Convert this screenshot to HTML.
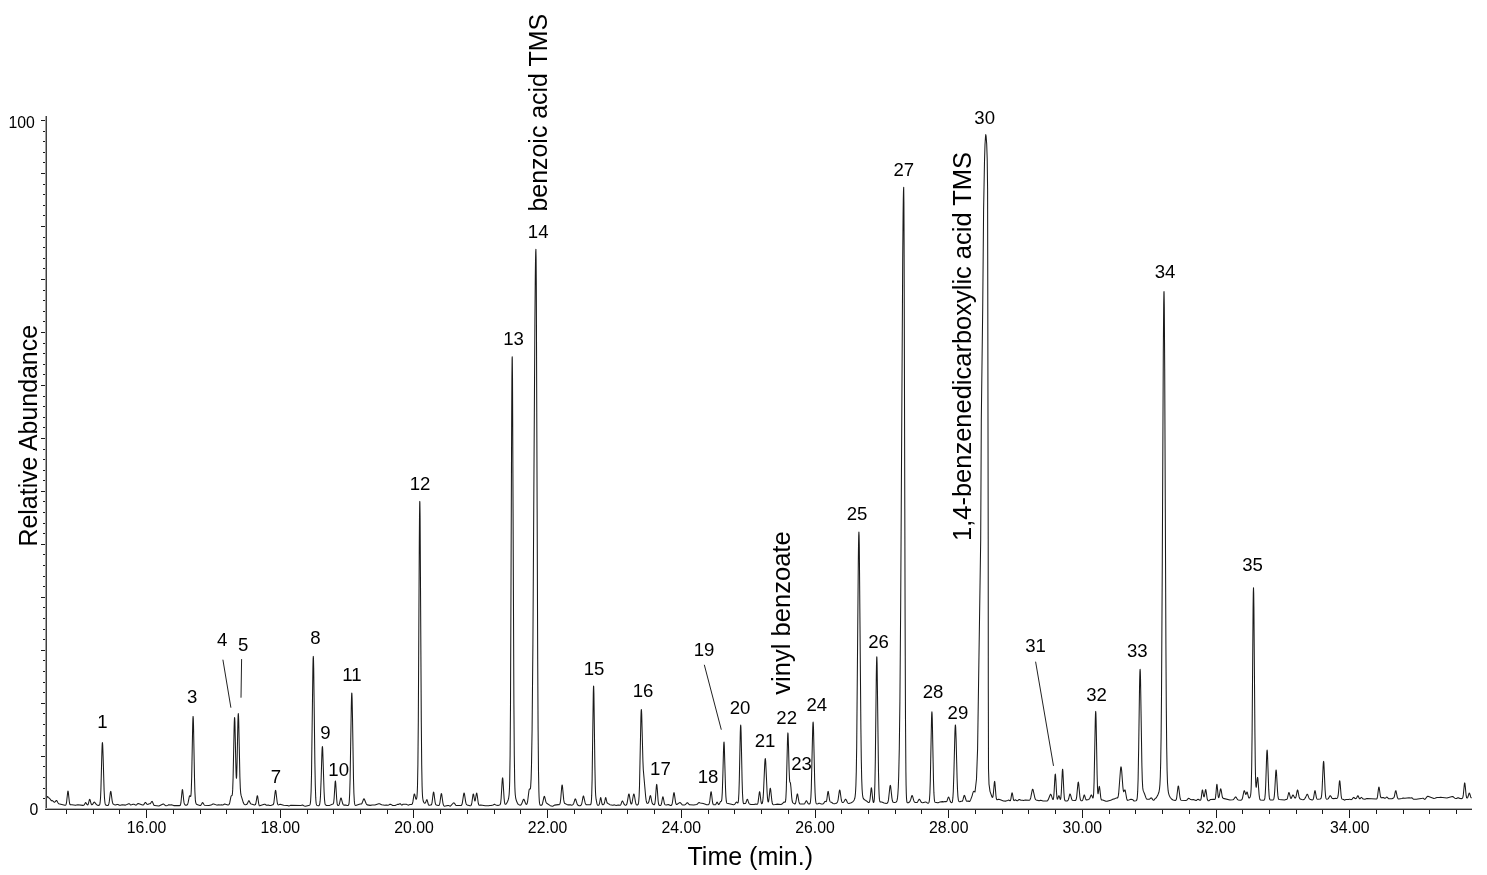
<!DOCTYPE html>
<html><head><meta charset="utf-8"><style>
html,body{margin:0;padding:0;background:#fff;width:1487px;height:875px;overflow:hidden}
svg{display:block;will-change:transform}
text{font-family:"Liberation Sans",sans-serif;fill:#000}
</style></head><body>
<svg width="1487" height="875" viewBox="0 0 1487 875">
<rect width="1487" height="875" fill="#fff"/>
<path d="M46.50,798.16 L47.50,796.44 L48.50,797.61 L49.70,798.50 L51.30,800.66 L52.30,800.63 L52.70,800.78 L53.90,801.97 L54.30,802.15 L54.70,802.11 L55.30,801.63 L56.10,800.64 L56.30,800.50 L56.60,800.50 L56.90,800.77 L58.10,803.00 L58.70,803.65 L64.90,805.28 L65.50,805.16 L65.90,804.78 L66.10,804.36 L66.50,802.72 L67.70,792.02 L67.90,791.20 L68.00,791.10 L68.10,791.22 L68.30,792.10 L69.30,801.50 L69.70,803.74 L69.90,804.32 L70.10,804.66 L70.30,804.81 L71.90,804.73 L75.50,805.35 L77.90,804.68 L82.90,805.38 L83.70,805.21 L84.10,804.93 L85.30,802.91 L85.50,802.68 L85.70,802.60 L85.90,802.67 L87.10,804.61 L87.50,804.89 L87.70,804.88 L87.90,804.73 L88.30,803.99 L89.30,800.02 L89.50,799.50 L89.70,799.30 L89.90,799.47 L90.30,800.70 L91.10,803.82 L91.50,804.57 L91.70,804.72 L91.90,804.76 L92.30,804.60 L92.90,803.89 L93.90,802.30 L94.10,802.15 L94.30,802.10 L94.50,802.16 L96.50,804.65 L97.50,805.21 L98.70,805.38 L99.10,805.29 L99.30,805.16 L99.50,804.91 L99.70,804.50 L99.90,803.81 L100.10,802.70 L100.50,798.42 L100.90,789.78 L101.90,751.82 L102.10,746.15 L102.30,743.04 L102.40,742.60 L102.50,742.86 L102.70,745.21 L103.10,755.92 L104.10,790.12 L104.50,798.03 L104.90,802.26 L105.10,803.42 L105.30,804.17 L105.50,804.64 L105.90,805.12 L107.50,805.50 L107.90,805.44 L108.30,805.18 L108.50,804.88 L108.90,803.70 L109.30,801.42 L110.30,792.84 L110.50,791.81 L110.70,791.40 L110.90,791.65 L111.10,792.52 L112.10,800.36 L112.50,802.45 L112.90,803.57 L113.30,804.11 L114.50,804.83 L115.30,804.93 L117.10,804.40 L117.90,804.51 L119.50,805.27 L120.50,805.30 L122.10,804.67 L125.50,805.11 L128.70,803.65 L129.10,803.65 L129.50,803.91 L130.30,804.73 L130.70,804.92 L131.50,804.85 L133.10,804.24 L133.90,804.28 L135.70,805.11 L136.10,805.12 L136.50,804.89 L137.50,803.82 L137.90,803.60 L138.30,803.62 L142.50,805.10 L143.10,805.09 L143.50,804.90 L144.10,804.17 L144.90,802.80 L145.30,802.43 L145.50,802.40 L145.70,802.49 L146.90,804.06 L147.30,804.35 L147.70,804.40 L149.30,803.85 L150.10,803.76 L150.50,803.53 L151.70,801.58 L151.90,801.41 L152.10,801.40 L152.30,801.57 L153.70,804.81 L154.10,805.31 L154.70,805.60 L158.90,805.94 L163.10,803.99 L163.70,804.03 L165.50,805.64 L165.90,805.82 L167.70,805.40 L168.70,804.81 L169.10,804.78 L169.90,805.04 L171.30,804.86 L173.70,805.62 L179.70,805.61 L180.10,805.41 L180.30,805.16 L180.50,804.72 L180.90,802.94 L182.10,790.81 L182.30,789.77 L182.40,789.60 L182.50,789.66 L182.70,790.48 L183.70,800.33 L184.10,802.89 L184.50,804.19 L184.90,804.77 L185.70,805.25 L186.30,805.33 L186.90,805.11 L187.30,804.70 L187.70,803.95 L188.10,802.68 L189.30,796.66 L189.50,796.02 L189.70,795.70 L189.90,795.69 L190.50,796.56 L190.70,796.43 L190.90,795.54 L191.10,793.48 L191.30,789.87 L191.70,776.79 L192.70,724.57 L192.90,718.51 L193.10,716.40 L193.30,718.55 L193.50,724.66 L194.50,777.62 L194.90,791.74 L195.30,799.14 L195.50,801.11 L195.70,802.35 L195.90,803.14 L196.30,803.99 L196.90,804.56 L199.90,805.52 L200.50,805.44 L200.90,805.17 L201.50,804.27 L202.30,802.79 L202.60,802.60 L202.90,802.73 L204.10,804.75 L204.50,805.15 L208.90,805.42 L211.10,805.10 L212.90,804.00 L213.70,803.90 L216.90,805.13 L217.70,805.07 L218.70,804.76 L220.10,804.96 L221.50,804.79 L222.70,805.03 L223.30,804.78 L224.30,804.09 L224.70,804.05 L227.90,804.91 L228.50,804.88 L228.90,804.65 L229.30,804.06 L229.70,802.90 L230.90,796.96 L231.10,796.26 L231.40,795.70 L231.90,795.57 L232.10,795.29 L232.30,794.41 L232.50,792.57 L232.70,789.39 L233.10,777.83 L234.10,728.77 L234.30,721.81 L234.50,718.08 L234.60,717.60 L234.70,718.07 L234.90,721.76 L235.90,767.05 L236.10,773.74 L236.30,777.60 L236.50,778.27 L236.70,775.66 L237.10,761.68 L237.90,721.67 L238.10,715.84 L238.30,713.60 L238.50,715.23 L238.70,720.46 L239.90,777.13 L240.30,787.84 L240.70,793.12 L241.10,795.42 L243.30,802.58 L243.90,803.83 L244.50,804.45 L245.50,804.71 L246.30,804.60 L246.90,804.20 L247.50,803.33 L248.50,801.10 L248.70,800.82 L248.90,800.70 L249.10,800.78 L249.50,801.42 L250.30,803.16 L250.70,803.67 L251.30,803.97 L254.50,804.92 L254.90,804.89 L255.30,804.64 L255.50,804.37 L255.90,803.27 L257.10,796.18 L257.30,795.71 L257.40,795.70 L257.50,795.85 L257.70,796.59 L258.70,803.67 L259.10,805.24 L259.30,805.62 L259.50,805.79 L259.70,805.83 L264.30,804.30 L264.90,804.33 L266.50,805.25 L267.10,805.28 L268.10,805.05 L269.70,805.60 L270.90,805.49 L272.30,804.86 L272.90,804.79 L273.10,804.70 L273.30,804.49 L273.50,804.10 L273.90,802.52 L275.10,792.32 L275.30,791.09 L275.50,790.46 L275.60,790.40 L275.70,790.52 L275.90,791.26 L277.10,801.52 L277.50,803.60 L277.70,804.20 L277.90,804.58 L278.10,804.80 L278.30,804.88 L280.10,804.34 L283.70,805.26 L286.70,805.51 L287.50,805.43 L288.90,805.96 L289.50,805.80 L290.90,805.18 L300.90,805.51 L302.50,805.06 L302.90,805.11 L304.30,805.99 L305.50,806.18 L309.50,805.15 L309.70,805.00 L309.90,804.73 L310.10,804.24 L310.30,803.40 L310.50,802.01 L310.70,799.80 L311.10,791.48 L311.50,775.23 L312.90,667.77 L313.10,659.31 L313.30,656.40 L313.50,659.37 L313.70,667.89 L314.90,764.03 L315.30,785.32 L315.70,797.15 L315.90,800.45 L316.10,802.58 L316.30,803.90 L316.50,804.67 L316.70,805.11 L317.10,805.49 L318.50,805.74 L318.90,805.63 L319.30,805.23 L319.50,804.81 L319.70,804.12 L320.10,801.43 L320.50,795.88 L321.10,780.21 L321.90,753.48 L322.10,749.16 L322.30,746.88 L322.40,746.60 L322.50,746.91 L322.70,749.26 L324.10,792.03 L324.50,799.34 L324.90,803.05 L325.10,803.98 L325.30,804.52 L325.70,805.03 L326.50,805.46 L329.70,805.40 L332.30,804.16 L332.90,804.07 L333.10,803.97 L333.30,803.73 L333.50,803.21 L333.70,802.27 L334.10,798.56 L335.10,782.57 L335.30,781.16 L335.40,781.00 L335.50,781.23 L335.70,782.78 L336.70,799.24 L337.10,803.15 L337.30,804.23 L337.50,804.88 L337.70,805.26 L337.90,805.45 L338.30,805.54 L338.70,805.35 L339.10,804.75 L339.50,803.51 L340.50,798.95 L340.70,798.36 L340.90,798.05 L341.10,798.03 L341.30,798.31 L342.70,803.58 L343.10,804.48 L343.50,804.94 L343.90,805.12 L345.70,805.05 L347.10,805.44 L348.10,805.37 L348.30,805.31 L348.50,805.15 L348.70,804.78 L348.90,804.07 L349.10,802.82 L349.30,800.79 L349.70,793.26 L350.10,779.08 L351.30,706.23 L351.50,697.95 L351.70,693.56 L351.80,693.00 L351.90,693.56 L352.10,697.95 L352.50,717.47 L353.50,779.05 L353.90,793.18 L354.30,800.64 L354.50,802.65 L354.70,803.90 L354.90,804.65 L355.10,805.08 L355.30,805.30 L355.70,805.44 L360.10,804.01 L361.30,803.97 L361.70,803.70 L362.10,803.09 L363.50,799.29 L363.70,798.97 L364.00,798.80 L364.30,799.03 L366.10,803.56 L366.70,804.47 L367.30,804.86 L370.10,805.36 L372.30,804.99 L374.90,805.02 L378.70,803.74 L379.50,803.80 L381.70,804.84 L384.70,805.26 L386.30,805.09 L387.90,805.34 L388.70,805.04 L389.70,804.39 L390.30,804.29 L391.30,804.59 L392.70,805.45 L395.10,805.47 L397.50,804.37 L398.70,804.36 L399.90,803.70 L400.10,803.66 L400.30,803.71 L401.50,804.99 L401.90,805.12 L402.30,804.95 L403.10,804.27 L403.50,804.19 L404.50,804.34 L406.30,804.26 L408.10,805.12 L408.50,805.11 L409.90,804.50 L411.70,804.44 L412.10,804.15 L412.50,803.32 L412.90,801.66 L413.90,795.27 L414.10,794.43 L414.30,794.00 L414.50,794.01 L414.70,794.42 L415.70,798.57 L415.90,799.04 L416.10,799.25 L416.30,799.19 L416.50,798.84 L416.70,798.12 L416.90,796.85 L417.10,794.75 L417.30,791.29 L417.50,785.74 L417.90,764.32 L418.30,721.97 L419.30,543.26 L419.50,517.21 L419.70,503.20 L419.80,501.40 L419.90,503.20 L420.10,517.22 L421.30,722.17 L421.70,764.68 L422.10,786.35 L422.30,792.06 L422.50,795.69 L422.70,798.00 L423.10,800.52 L423.50,801.81 L423.90,802.57 L424.30,802.99 L424.70,803.16 L425.10,803.12 L425.50,802.73 L426.50,800.10 L426.70,799.76 L426.90,799.70 L427.10,799.95 L428.30,804.24 L428.70,805.01 L429.10,805.31 L429.50,805.31 L430.50,804.96 L431.10,804.94 L431.30,804.83 L431.50,804.58 L431.70,804.10 L432.10,802.29 L433.10,794.06 L433.30,792.84 L433.50,792.19 L433.60,792.10 L433.70,792.18 L433.90,792.82 L435.10,802.08 L435.50,803.87 L435.70,804.37 L435.90,804.68 L436.30,804.97 L438.30,805.59 L438.70,805.57 L439.10,805.29 L439.50,804.47 L439.90,802.75 L440.90,795.34 L441.10,794.26 L441.30,793.67 L441.40,793.60 L441.50,793.68 L441.70,794.26 L442.90,802.81 L443.30,804.60 L443.70,805.54 L444.10,805.99 L444.50,806.17 L445.30,806.10 L447.90,805.42 L448.70,805.54 L449.90,806.15 L450.30,806.12 L450.90,805.65 L453.10,803.24 L453.70,802.88 L454.10,802.95 L454.50,803.33 L455.70,805.12 L456.30,805.56 L461.10,805.50 L461.50,805.26 L461.90,804.56 L462.30,803.11 L463.70,793.93 L464.00,793.10 L464.10,793.06 L464.30,793.35 L464.50,794.10 L465.70,802.12 L466.10,803.64 L466.50,804.44 L467.10,804.94 L470.10,805.81 L470.70,805.71 L471.10,805.31 L471.50,804.32 L471.90,802.41 L472.90,795.21 L473.10,794.35 L473.30,794.00 L473.50,794.20 L473.70,794.91 L474.50,799.75 L474.70,800.56 L474.90,800.95 L475.10,800.85 L475.30,800.28 L476.30,794.03 L476.50,793.29 L476.70,793.10 L476.90,793.49 L477.30,795.77 L478.10,802.04 L478.50,804.03 L478.70,804.62 L478.90,805.00 L479.10,805.20 L479.30,805.28 L480.70,804.91 L485.30,805.69 L488.70,805.70 L489.70,805.44 L491.10,805.53 L493.10,805.02 L494.10,804.35 L494.50,804.31 L495.70,804.90 L498.10,805.47 L498.70,805.32 L499.90,804.74 L500.10,804.59 L500.30,804.25 L500.50,803.62 L500.70,802.57 L501.10,798.77 L502.10,781.93 L502.30,779.44 L502.50,778.09 L502.60,777.90 L502.70,778.05 L502.90,779.35 L504.10,798.27 L504.50,801.99 L504.70,803.05 L504.90,803.71 L505.10,804.08 L505.30,804.25 L505.50,804.29 L505.90,804.15 L506.50,803.57 L507.50,801.71 L508.30,799.47 L508.70,797.80 L509.10,794.77 L509.30,792.02 L509.50,787.72 L509.70,780.99 L510.10,755.41 L510.50,704.34 L511.70,412.70 L511.90,377.73 L512.10,359.07 L512.20,356.70 L512.30,359.12 L512.50,377.85 L513.90,704.58 L514.30,755.62 L514.70,781.18 L514.90,787.91 L515.10,792.21 L515.30,794.97 L515.70,798.04 L516.50,801.04 L517.50,803.33 L518.30,804.39 L519.50,805.08 L520.30,805.18 L520.70,805.07 L521.10,804.77 L521.70,803.84 L523.10,800.02 L523.50,799.37 L523.70,799.27 L523.90,799.35 L524.30,799.98 L525.50,803.30 L525.90,804.04 L526.10,804.26 L526.30,804.37 L526.50,804.37 L526.70,804.24 L526.90,803.97 L527.30,802.84 L527.70,800.78 L528.90,791.11 L529.10,790.01 L529.30,789.30 L529.50,788.98 L529.70,788.95 L530.10,789.09 L530.30,788.79 L530.50,787.88 L530.70,786.09 L531.10,778.88 L531.50,765.26 L532.10,729.17 L532.90,644.97 L534.90,321.06 L535.30,276.25 L535.50,261.42 L535.70,252.34 L535.90,249.30 L536.10,258.44 L536.30,284.90 L537.70,659.33 L538.10,729.84 L538.50,771.13 L538.90,791.77 L539.10,797.21 L539.30,800.64 L539.50,802.71 L539.70,803.93 L539.90,804.62 L540.10,805.00 L540.50,805.31 L541.30,805.33 L541.70,805.15 L542.10,804.68 L542.50,803.73 L543.90,797.15 L544.10,796.61 L544.30,796.40 L544.50,796.53 L544.70,796.97 L545.90,801.86 L546.30,802.78 L546.70,803.25 L550.30,805.65 L552.50,806.20 L553.10,806.00 L554.50,805.12 L558.30,804.61 L559.10,804.65 L559.50,804.49 L559.70,804.26 L559.90,803.87 L560.30,802.26 L560.70,799.10 L561.70,787.04 L561.90,785.58 L562.10,785.00 L562.30,785.36 L562.50,786.59 L563.70,799.66 L564.10,801.97 L564.50,803.09 L564.90,803.57 L567.70,804.89 L570.50,804.79 L571.70,805.14 L572.30,805.01 L572.90,804.62 L573.30,804.16 L573.70,803.38 L574.90,799.49 L575.10,799.09 L575.30,798.90 L575.50,798.96 L575.70,799.25 L577.10,803.86 L577.50,804.68 L578.10,805.34 L579.10,805.75 L580.10,805.67 L580.90,805.28 L581.30,804.81 L581.70,803.83 L582.30,800.99 L582.90,797.44 L583.10,796.59 L583.30,796.09 L583.40,796.00 L583.50,796.01 L583.70,796.33 L585.10,802.63 L585.50,803.77 L585.90,804.41 L586.30,804.71 L590.30,804.72 L590.50,804.64 L590.70,804.46 L590.90,804.06 L591.10,803.28 L591.30,801.82 L591.50,799.28 L591.70,795.15 L592.10,779.90 L593.30,693.18 L593.50,686.82 L593.60,686.00 L593.70,686.82 L593.90,693.18 L594.90,766.92 L595.30,786.35 L595.50,791.91 L595.70,795.45 L596.10,799.20 L596.90,803.40 L597.30,804.67 L597.50,805.02 L597.70,805.22 L598.10,805.33 L598.70,805.15 L598.90,804.98 L599.10,804.68 L599.50,803.47 L600.30,798.74 L600.50,797.90 L600.70,797.60 L600.90,797.91 L601.90,803.37 L602.10,804.04 L602.30,804.44 L602.50,804.65 L602.90,804.72 L603.70,804.41 L604.10,803.93 L604.50,802.80 L605.30,798.65 L605.50,797.90 L605.70,797.60 L605.90,797.81 L606.90,802.25 L607.10,802.82 L607.30,803.18 L607.50,803.38 L608.50,803.75 L609.90,804.68 L612.70,805.16 L614.50,804.87 L616.10,805.44 L618.10,805.05 L620.10,805.24 L620.50,805.08 L620.90,804.53 L621.90,801.66 L622.10,801.24 L622.30,801.00 L622.50,800.97 L622.70,801.12 L624.10,804.17 L624.70,804.90 L625.30,805.23 L625.70,805.28 L626.10,805.13 L626.50,804.68 L626.90,803.75 L627.30,802.12 L628.50,794.86 L628.70,794.22 L628.90,794.00 L629.10,794.22 L629.30,794.86 L630.50,802.04 L630.90,803.52 L631.10,803.91 L631.30,804.07 L631.50,804.01 L631.70,803.72 L632.10,802.48 L633.30,795.52 L633.50,794.65 L633.70,794.12 L633.90,794.00 L634.10,794.30 L634.50,796.00 L635.50,802.17 L635.90,803.72 L636.30,804.58 L636.70,804.95 L637.10,805.06 L637.50,805.00 L637.90,804.70 L638.10,804.37 L638.30,803.82 L638.50,802.93 L638.70,801.53 L639.10,796.27 L639.50,786.03 L640.90,717.94 L641.10,712.11 L641.30,709.50 L641.50,710.28 L641.70,714.19 L642.90,760.57 L643.30,769.72 L645.70,797.04 L646.10,800.13 L646.50,802.07 L646.90,803.05 L647.10,803.28 L647.30,803.38 L647.70,803.34 L648.10,803.10 L648.50,802.58 L648.90,801.52 L649.90,796.73 L650.10,796.01 L650.30,795.64 L650.40,795.60 L650.50,795.66 L650.70,796.09 L651.90,802.06 L652.30,803.30 L652.70,803.97 L653.70,804.64 L654.10,804.71 L654.30,804.64 L654.50,804.44 L654.70,804.02 L654.90,803.30 L655.30,800.47 L656.30,786.80 L656.50,785.03 L656.70,784.40 L656.90,785.02 L657.30,789.40 L658.10,800.52 L658.50,803.45 L658.70,804.26 L658.90,804.78 L659.30,805.31 L659.70,805.52 L660.10,805.56 L660.50,805.43 L660.90,805.03 L661.30,804.16 L661.70,802.51 L662.50,797.81 L662.70,797.08 L662.90,796.80 L663.10,797.03 L663.50,798.73 L664.30,803.08 L664.70,804.21 L665.10,804.71 L666.30,805.02 L668.30,804.55 L668.90,804.68 L670.50,805.51 L670.90,805.56 L671.30,805.42 L671.70,804.95 L672.10,803.91 L672.50,802.00 L673.50,794.42 L673.70,793.34 L673.90,792.77 L674.00,792.70 L674.10,792.78 L674.30,793.37 L675.50,801.84 L675.90,803.54 L676.10,804.03 L676.30,804.32 L676.50,804.47 L676.90,804.46 L679.50,802.68 L679.90,802.59 L680.30,802.70 L682.10,804.65 L682.90,804.98 L684.70,804.90 L685.50,804.50 L686.90,802.91 L687.40,802.70 L687.70,802.82 L689.10,804.47 L689.70,804.85 L693.70,804.92 L696.70,804.47 L697.50,803.97 L698.70,802.69 L699.10,802.57 L700.30,803.00 L703.30,803.57 L706.70,804.78 L708.10,804.74 L708.70,804.44 L709.10,803.90 L709.50,802.64 L709.90,800.17 L710.70,793.10 L710.90,792.04 L711.10,791.70 L711.30,792.15 L711.70,794.99 L712.50,801.99 L712.90,803.76 L713.10,804.23 L713.30,804.51 L713.70,804.76 L715.10,804.84 L715.50,804.69 L715.90,804.25 L716.70,802.52 L716.90,802.21 L717.10,802.10 L717.30,802.21 L718.30,804.20 L718.50,804.42 L718.70,804.52 L718.90,804.49 L719.30,804.10 L720.30,801.91 L720.70,801.40 L721.30,801.18 L721.50,800.83 L721.70,800.02 L721.90,798.51 L722.30,792.38 L722.90,773.63 L723.50,750.44 L723.70,745.16 L723.90,742.40 L724.00,742.10 L724.10,742.55 L724.30,745.59 L725.50,788.00 L725.90,796.62 L726.30,800.95 L726.50,802.05 L726.70,802.70 L726.90,803.07 L727.10,803.26 L733.50,804.65 L734.30,804.50 L734.90,804.05 L736.10,802.34 L736.50,802.07 L736.70,802.09 L737.50,802.86 L737.70,802.97 L737.90,802.89 L738.10,802.47 L738.30,801.55 L738.50,799.88 L738.90,793.17 L739.30,780.26 L740.30,732.37 L740.50,726.90 L740.70,725.00 L740.90,726.93 L741.10,732.43 L742.10,780.38 L742.50,793.30 L742.90,800.08 L743.10,801.83 L743.30,802.87 L743.50,803.42 L743.70,803.65 L743.90,803.69 L744.50,803.50 L745.30,803.54 L745.50,803.41 L745.90,802.77 L746.90,799.83 L747.10,799.45 L747.30,799.29 L747.50,799.37 L747.70,799.70 L748.70,802.85 L749.10,803.63 L749.50,803.96 L750.90,804.49 L754.10,804.54 L755.70,804.08 L756.90,804.35 L757.30,804.25 L757.50,804.05 L757.70,803.68 L758.10,802.18 L759.30,792.55 L759.50,791.80 L759.60,791.70 L759.70,791.80 L759.90,792.56 L760.90,800.93 L761.30,802.93 L761.50,803.44 L761.70,803.68 L761.90,803.69 L762.10,803.50 L762.30,803.08 L762.70,801.37 L763.10,797.93 L763.50,792.08 L764.70,764.62 L764.90,761.30 L765.10,759.23 L765.30,758.60 L765.50,759.47 L765.70,761.73 L767.10,792.22 L767.50,797.95 L767.90,801.08 L768.10,801.77 L768.30,801.93 L768.50,801.59 L768.70,800.76 L769.10,797.76 L769.90,789.85 L770.10,788.71 L770.30,788.30 L770.50,788.68 L770.70,789.80 L771.90,801.21 L772.30,803.25 L772.70,804.25 L773.10,804.65 L775.30,804.55 L776.90,804.14 L781.10,804.42 L781.90,804.10 L783.70,802.28 L784.10,802.10 L784.90,802.30 L785.10,802.25 L785.30,801.96 L785.50,801.26 L785.70,799.93 L785.90,797.68 L786.30,789.33 L787.50,739.75 L787.70,734.74 L787.90,732.90 L788.10,734.44 L788.50,745.95 L789.10,769.56 L789.50,779.06 L789.70,781.16 L789.90,782.03 L790.30,782.59 L790.50,783.37 L790.90,787.02 L791.70,797.30 L792.10,800.50 L792.50,802.13 L792.90,802.84 L794.50,803.88 L794.90,803.95 L795.10,803.85 L795.30,803.61 L795.70,802.57 L796.30,799.39 L796.90,795.45 L797.10,794.55 L797.30,794.06 L797.40,794.00 L797.50,794.06 L797.70,794.56 L798.90,801.66 L799.30,803.11 L799.70,803.81 L800.10,804.08 L803.90,804.07 L804.30,803.92 L804.70,803.57 L806.10,800.89 L806.40,800.70 L806.70,800.88 L807.90,803.26 L808.30,803.75 L808.90,804.04 L809.50,804.01 L809.70,803.90 L809.90,803.69 L810.10,803.29 L810.30,802.61 L810.50,801.48 L810.90,797.06 L811.30,788.20 L812.70,728.53 L812.90,723.78 L813.10,722.10 L813.30,723.67 L813.50,728.32 L814.70,781.20 L815.10,792.92 L815.50,799.43 L815.70,801.24 L815.90,802.40 L816.10,803.11 L816.30,803.53 L816.50,803.75 L816.90,803.90 L817.90,803.66 L818.90,803.20 L819.50,803.22 L820.90,803.90 L823.10,803.86 L823.50,803.62 L824.70,801.68 L825.10,801.36 L825.50,801.45 L825.90,801.66 L826.10,801.64 L826.30,801.44 L826.50,800.96 L826.90,799.02 L827.70,792.82 L827.90,791.81 L828.10,791.40 L828.30,791.66 L828.50,792.53 L829.50,799.61 L829.90,801.13 L830.10,801.54 L830.50,801.95 L831.50,802.25 L832.90,803.45 L834.30,803.77 L835.70,803.57 L836.70,802.99 L837.30,802.29 L837.70,801.39 L838.10,799.79 L839.30,791.19 L839.50,790.32 L839.70,790.00 L839.90,790.26 L840.10,791.08 L841.30,799.73 L841.70,801.38 L842.10,802.19 L842.50,802.49 L842.90,802.50 L843.50,802.20 L844.10,801.49 L845.10,799.69 L845.30,799.44 L845.50,799.30 L845.70,799.30 L845.90,799.44 L846.30,800.07 L847.30,802.30 L847.70,802.88 L848.10,803.21 L848.90,803.39 L851.30,802.78 L852.70,801.88 L853.70,800.74 L854.30,799.66 L854.70,798.53 L855.10,796.58 L855.50,792.77 L855.90,785.19 L856.30,770.90 L856.70,746.52 L858.30,562.98 L858.50,546.29 L858.70,535.68 L858.90,532.00 L859.10,535.54 L859.30,546.02 L860.90,729.23 L861.30,759.73 L861.70,778.70 L862.10,789.20 L862.50,794.52 L862.90,797.10 L863.30,798.35 L863.90,799.25 L865.50,800.45 L866.70,801.08 L867.90,802.19 L868.50,802.47 L868.90,802.48 L869.10,802.40 L869.30,802.19 L869.50,801.80 L869.70,801.14 L870.10,798.73 L871.10,788.83 L871.30,787.98 L871.40,787.90 L871.50,788.05 L871.70,789.04 L872.70,799.28 L873.10,801.68 L873.30,802.27 L873.50,802.51 L873.70,802.41 L873.90,801.89 L874.10,800.79 L874.30,798.84 L874.50,795.67 L874.90,783.76 L875.30,761.57 L876.30,676.17 L876.50,664.23 L876.70,657.72 L876.80,656.80 L876.90,657.48 L877.10,663.52 L878.50,772.34 L878.90,789.30 L879.10,794.29 L879.30,797.58 L879.50,799.65 L879.70,800.88 L879.90,801.56 L880.10,801.91 L880.30,802.07 L881.70,801.99 L884.10,803.02 L886.30,803.44 L886.90,803.32 L887.30,803.07 L887.70,802.58 L888.10,801.57 L888.50,799.63 L889.90,786.79 L890.10,785.77 L890.30,785.40 L890.50,785.72 L890.70,786.70 L891.90,797.82 L892.30,800.24 L892.70,801.55 L893.10,802.14 L894.70,802.49 L895.70,802.28 L896.30,801.90 L896.70,801.34 L897.10,800.18 L897.50,797.90 L897.90,793.81 L898.30,786.93 L898.70,775.97 L899.30,748.26 L899.90,701.71 L900.70,603.08 L902.70,259.88 L903.10,214.56 L903.30,199.61 L903.50,190.43 L903.70,187.30 L903.90,202.25 L904.10,245.07 L905.10,619.03 L905.50,719.39 L905.90,771.77 L906.10,785.26 L906.30,793.40 L906.50,798.04 L906.70,800.55 L906.90,801.84 L907.10,802.45 L907.30,802.73 L907.50,802.83 L908.30,802.69 L909.50,801.94 L910.10,801.16 L910.70,799.59 L911.70,796.00 L911.90,795.63 L912.10,795.50 L912.30,795.64 L912.70,796.63 L913.70,800.42 L914.10,801.43 L914.50,802.03 L915.10,802.43 L916.50,802.58 L917.10,802.38 L917.50,802.02 L918.90,799.57 L919.10,799.37 L919.30,799.30 L919.50,799.36 L919.90,799.83 L921.10,801.99 L921.70,802.52 L922.70,802.74 L925.50,801.99 L926.10,802.08 L927.50,803.06 L927.90,803.18 L928.30,803.11 L928.70,802.78 L928.90,802.43 L929.10,801.83 L929.30,800.83 L929.50,799.22 L929.90,793.01 L930.30,780.86 L931.50,719.44 L931.70,713.70 L931.90,711.70 L932.10,713.70 L932.30,719.44 L933.50,780.82 L933.90,792.90 L934.30,799.00 L934.50,800.54 L934.70,801.45 L934.90,801.95 L935.10,802.21 L937.50,802.80 L938.50,802.61 L939.90,801.99 L942.30,801.61 L943.70,801.86 L945.10,801.49 L946.30,801.61 L946.70,801.37 L947.10,800.70 L948.10,797.65 L948.30,797.26 L948.50,797.10 L948.70,797.16 L948.90,797.44 L950.30,801.37 L950.70,802.05 L951.30,802.58 L951.70,802.67 L951.90,802.58 L952.10,802.33 L952.30,801.84 L952.50,801.00 L952.90,797.67 L953.30,791.01 L953.90,772.75 L954.90,732.89 L955.10,728.00 L955.30,725.38 L955.40,725.00 L955.50,725.26 L955.70,727.66 L956.10,738.83 L957.10,778.39 L957.50,789.36 L957.90,796.07 L958.30,799.54 L958.50,800.46 L958.70,801.04 L958.90,801.38 L959.30,801.66 L959.90,801.65 L961.10,801.16 L961.90,801.33 L962.10,801.32 L962.30,801.19 L962.50,800.92 L962.90,799.90 L963.90,796.08 L964.10,795.62 L964.30,795.40 L964.50,795.45 L964.70,795.75 L966.10,800.27 L966.50,800.96 L966.90,801.25 L967.30,801.22 L967.90,800.93 L968.30,800.96 L969.10,801.53 L969.30,801.57 L969.50,801.52 L969.90,801.17 L970.70,799.63 L972.10,795.87 L972.90,792.90 L973.30,791.92 L973.70,791.41 L973.90,791.35 L974.30,791.53 L975.00,791.96 L976.50,778.96 L977.60,748.80 L980.70,539.84 L981.30,419.94 L982.70,308.89 L983.60,209.77 L984.50,161.26 L985.00,144.46 L985.50,136.83 L985.75,134.57 L986.10,136.18 L986.70,144.06 L987.20,159.00 L987.60,188.98 L988.20,539.00 L988.30,689.01 L988.50,769.03 L989.00,784.12 L990.00,791.33 L992.00,796.96 L992.30,797.32 L992.50,797.39 L992.70,797.21 L992.90,796.70 L993.10,795.73 L993.50,792.25 L994.30,782.78 L994.50,781.57 L994.60,781.40 L994.70,781.53 L994.90,782.64 L995.90,795.25 L996.30,798.26 L996.50,799.05 L996.70,799.49 L996.90,799.69 L997.10,799.75 L998.70,799.27 L999.70,799.42 L1003.50,801.05 L1005.90,801.12 L1007.70,800.58 L1008.50,800.12 L1008.90,800.08 L1009.90,800.75 L1010.10,800.77 L1010.30,800.63 L1010.50,800.28 L1010.90,798.79 L1011.70,793.94 L1011.90,793.17 L1012.10,792.90 L1012.30,793.19 L1012.70,795.12 L1013.30,798.84 L1013.70,800.25 L1013.90,800.53 L1014.10,800.60 L1015.10,799.84 L1015.30,799.80 L1015.70,799.97 L1016.50,800.61 L1017.10,800.79 L1017.70,800.65 L1019.10,799.53 L1019.50,799.43 L1020.90,800.18 L1022.30,800.16 L1023.50,800.56 L1025.30,799.92 L1028.90,800.35 L1029.50,800.16 L1029.90,799.81 L1030.30,799.11 L1030.70,797.88 L1032.10,790.57 L1032.30,789.86 L1032.60,789.30 L1032.70,789.26 L1032.90,789.41 L1033.10,789.83 L1034.70,797.21 L1035.30,798.99 L1035.70,799.62 L1036.10,799.94 L1039.10,800.78 L1040.70,800.31 L1043.10,800.97 L1046.90,800.91 L1047.50,800.65 L1048.10,799.96 L1050.10,794.99 L1050.50,794.37 L1050.70,794.30 L1050.90,794.41 L1051.30,795.13 L1052.50,798.81 L1052.70,799.23 L1052.90,799.47 L1053.10,799.49 L1053.30,799.17 L1053.50,798.40 L1053.70,797.04 L1054.10,792.10 L1054.90,777.16 L1055.10,774.83 L1055.30,774.00 L1055.50,774.83 L1055.90,780.61 L1056.50,792.15 L1056.90,797.07 L1057.10,798.38 L1057.30,799.04 L1057.50,799.17 L1057.70,798.91 L1058.50,796.28 L1058.70,795.85 L1058.90,795.70 L1059.10,795.87 L1060.10,799.05 L1060.30,799.35 L1060.50,799.27 L1060.70,798.68 L1060.90,797.44 L1061.30,792.47 L1062.30,771.48 L1062.50,769.56 L1062.60,769.30 L1062.70,769.53 L1062.90,771.40 L1063.90,792.29 L1064.30,797.48 L1064.50,798.94 L1064.70,799.85 L1064.90,800.39 L1065.10,800.68 L1065.50,800.91 L1066.90,800.94 L1067.50,800.74 L1067.90,800.41 L1068.30,799.75 L1068.70,798.52 L1069.50,795.04 L1069.70,794.42 L1069.90,794.07 L1070.10,794.01 L1070.30,794.24 L1070.70,795.41 L1071.70,799.11 L1072.10,799.92 L1072.50,800.32 L1074.90,800.59 L1075.50,800.41 L1075.90,799.96 L1076.30,798.87 L1076.70,796.61 L1077.90,783.81 L1078.10,782.54 L1078.30,782.10 L1078.50,782.55 L1078.70,783.83 L1079.90,796.84 L1080.30,799.16 L1080.50,799.83 L1080.70,800.26 L1080.90,800.52 L1081.30,800.73 L1081.90,800.71 L1082.30,800.49 L1082.70,799.94 L1083.10,798.84 L1083.90,795.67 L1084.10,795.18 L1084.30,795.00 L1084.50,795.17 L1084.90,796.35 L1085.50,798.66 L1085.90,799.60 L1086.10,799.84 L1086.50,800.01 L1088.70,799.42 L1089.30,799.02 L1089.70,798.48 L1090.90,795.50 L1091.10,795.16 L1091.30,795.00 L1091.50,795.05 L1091.70,795.31 L1092.70,797.86 L1092.90,798.03 L1093.10,797.80 L1093.30,796.98 L1093.50,795.30 L1093.70,792.45 L1094.10,781.87 L1095.30,719.65 L1095.50,713.50 L1095.70,711.40 L1095.90,713.67 L1096.10,719.98 L1097.10,774.17 L1097.50,787.82 L1097.70,791.49 L1097.90,793.33 L1098.10,793.69 L1098.30,792.93 L1098.90,788.03 L1099.10,786.85 L1099.30,786.40 L1099.50,786.78 L1099.90,789.68 L1100.70,797.15 L1101.10,799.09 L1101.30,799.58 L1101.50,799.86 L1101.70,799.99 L1102.70,800.05 L1105.90,801.33 L1107.10,801.22 L1110.70,800.35 L1112.70,799.18 L1114.50,798.87 L1116.30,798.04 L1117.30,798.01 L1117.50,797.92 L1117.70,797.73 L1117.90,797.37 L1118.30,795.93 L1118.70,793.17 L1120.50,769.43 L1120.70,767.87 L1120.90,767.03 L1121.00,766.90 L1121.10,766.96 L1121.30,767.67 L1121.70,771.14 L1122.90,787.25 L1123.30,790.46 L1123.50,791.31 L1123.70,791.67 L1123.90,791.63 L1124.70,790.01 L1124.90,789.92 L1125.10,790.16 L1125.30,790.75 L1126.70,798.68 L1127.10,799.86 L1127.30,800.16 L1127.50,800.32 L1127.90,800.37 L1130.90,799.27 L1132.50,799.59 L1132.90,799.82 L1133.90,800.93 L1134.30,801.08 L1136.10,800.70 L1136.50,800.40 L1136.70,800.06 L1136.90,799.50 L1137.10,798.55 L1137.30,797.02 L1137.70,791.15 L1138.10,779.40 L1138.70,746.87 L1139.50,689.32 L1139.70,678.67 L1139.90,671.73 L1140.10,669.20 L1140.30,671.33 L1140.50,677.85 L1141.90,765.72 L1142.30,779.87 L1142.70,787.13 L1142.90,789.01 L1143.10,790.18 L1143.50,791.40 L1144.50,793.76 L1145.90,797.69 L1146.50,798.78 L1146.90,799.20 L1147.30,799.34 L1149.50,799.13 L1150.90,797.99 L1151.30,797.88 L1151.70,798.10 L1152.90,799.83 L1153.30,800.17 L1153.70,800.22 L1154.10,799.97 L1155.10,798.67 L1156.30,797.76 L1157.70,795.35 L1158.70,792.81 L1159.10,791.27 L1159.50,788.87 L1159.90,784.64 L1160.30,776.74 L1160.70,762.19 L1161.10,736.85 L1161.50,696.24 L1162.30,560.85 L1163.30,353.13 L1163.70,303.38 L1163.90,292.81 L1164.00,291.50 L1164.10,293.24 L1164.30,306.75 L1164.70,368.73 L1165.90,644.43 L1166.30,707.39 L1166.70,747.78 L1167.10,770.76 L1167.50,782.69 L1168.10,790.45 L1168.50,792.87 L1169.10,795.11 L1170.10,797.22 L1171.50,799.04 L1173.10,800.05 L1175.10,800.46 L1175.50,800.40 L1175.90,800.11 L1176.30,799.29 L1176.70,797.55 L1177.90,787.48 L1178.10,786.43 L1178.30,786.00 L1178.50,786.24 L1178.70,787.12 L1179.90,796.83 L1180.30,798.75 L1180.70,799.77 L1181.10,800.25 L1185.70,800.48 L1186.50,800.24 L1187.30,799.57 L1188.30,798.44 L1188.70,798.29 L1189.10,798.40 L1190.70,799.57 L1191.70,799.74 L1193.30,799.60 L1195.90,800.58 L1196.30,800.55 L1197.50,799.47 L1198.10,799.31 L1199.90,800.25 L1200.30,800.26 L1200.50,800.15 L1200.70,799.90 L1200.90,799.43 L1201.30,797.54 L1202.10,791.15 L1202.30,790.21 L1202.40,790.00 L1202.50,789.98 L1202.70,790.47 L1203.50,795.53 L1203.70,796.40 L1203.90,796.85 L1204.10,796.86 L1204.30,796.45 L1204.70,794.52 L1205.30,790.61 L1205.50,789.82 L1205.70,789.60 L1205.90,790.01 L1206.30,792.39 L1207.10,798.26 L1207.50,799.81 L1207.90,800.51 L1208.30,800.79 L1208.70,800.84 L1209.10,800.71 L1210.30,799.62 L1210.90,799.41 L1213.50,799.23 L1214.50,799.44 L1214.70,799.43 L1214.90,799.33 L1215.10,799.06 L1215.30,798.53 L1215.50,797.60 L1215.90,794.18 L1216.50,786.67 L1216.70,784.95 L1216.90,784.30 L1217.10,784.87 L1218.10,795.53 L1218.30,796.77 L1218.50,797.43 L1218.70,797.59 L1218.90,797.33 L1219.30,795.87 L1220.30,789.83 L1220.50,789.14 L1220.70,788.90 L1220.90,789.15 L1221.30,790.90 L1222.10,795.76 L1222.50,797.28 L1222.90,798.05 L1223.30,798.37 L1229.90,800.08 L1232.90,799.72 L1233.70,799.28 L1235.30,797.08 L1235.50,796.94 L1235.70,796.90 L1235.90,796.98 L1236.30,797.43 L1237.50,799.41 L1238.10,799.92 L1240.70,800.22 L1241.30,800.08 L1241.70,799.81 L1242.10,799.21 L1242.50,798.11 L1243.90,791.44 L1244.10,790.91 L1244.30,790.70 L1244.50,790.82 L1244.90,791.87 L1245.50,793.98 L1245.70,794.35 L1245.90,794.43 L1246.10,794.19 L1246.70,792.50 L1246.90,792.10 L1247.10,792.00 L1247.30,792.27 L1248.50,797.21 L1248.70,797.67 L1248.90,797.94 L1249.10,798.05 L1249.30,798.03 L1249.70,797.70 L1250.10,797.02 L1250.50,795.68 L1250.70,794.46 L1250.90,792.52 L1251.10,789.41 L1251.30,784.52 L1251.70,766.34 L1252.10,732.31 L1253.10,607.02 L1253.30,592.71 L1253.50,587.70 L1253.70,592.70 L1253.90,606.99 L1254.90,731.96 L1255.30,765.40 L1255.50,775.59 L1255.70,782.15 L1255.90,785.80 L1256.10,787.25 L1256.30,787.08 L1256.50,785.81 L1257.10,779.65 L1257.30,778.13 L1257.50,777.41 L1257.60,777.40 L1257.70,777.64 L1257.90,778.86 L1259.10,794.49 L1259.50,797.68 L1259.90,799.27 L1260.10,799.66 L1260.50,800.03 L1263.70,800.22 L1264.10,800.09 L1264.30,799.88 L1264.50,799.50 L1264.70,798.81 L1264.90,797.66 L1265.30,793.26 L1265.70,784.97 L1266.70,754.73 L1266.90,751.25 L1267.10,750.00 L1267.30,751.14 L1267.50,754.52 L1268.70,789.15 L1269.10,795.34 L1269.30,797.14 L1269.50,798.32 L1269.70,799.07 L1269.90,799.52 L1270.30,799.93 L1272.70,800.06 L1273.10,799.93 L1273.50,799.56 L1273.70,799.18 L1273.90,798.54 L1274.30,796.07 L1274.70,791.25 L1275.70,772.92 L1275.90,770.78 L1276.10,770.00 L1276.30,770.69 L1276.50,772.74 L1277.50,790.81 L1277.90,795.64 L1278.30,798.16 L1278.50,798.82 L1278.70,799.22 L1279.10,799.60 L1284.50,799.97 L1285.90,799.47 L1286.70,799.42 L1286.90,799.29 L1287.10,799.02 L1287.50,797.98 L1288.50,793.50 L1288.70,792.90 L1288.90,792.61 L1289.00,792.60 L1289.10,792.67 L1289.30,793.07 L1290.30,797.18 L1290.70,798.21 L1290.90,798.42 L1291.10,798.44 L1291.30,798.28 L1292.50,795.57 L1292.70,795.23 L1293.00,795.00 L1293.30,795.13 L1294.70,797.78 L1294.90,797.98 L1295.10,798.08 L1295.30,798.06 L1295.50,797.90 L1295.70,797.59 L1296.10,796.40 L1297.10,791.15 L1297.30,790.41 L1297.50,790.03 L1297.60,790.00 L1297.70,790.08 L1297.90,790.56 L1299.10,796.91 L1299.50,798.11 L1299.90,798.68 L1301.50,799.57 L1303.10,799.76 L1303.90,799.53 L1304.70,798.83 L1305.70,797.13 L1306.70,794.87 L1307.10,794.32 L1307.30,794.26 L1307.50,794.38 L1307.90,795.11 L1308.90,797.89 L1309.30,798.62 L1309.90,799.17 L1312.10,799.95 L1312.50,799.93 L1312.90,799.67 L1313.30,798.90 L1313.70,797.31 L1314.50,792.24 L1314.70,791.28 L1314.90,790.76 L1315.00,790.70 L1315.10,790.77 L1315.30,791.31 L1316.30,797.08 L1316.70,798.47 L1316.90,798.85 L1317.30,799.19 L1320.10,799.04 L1320.50,798.88 L1320.90,798.47 L1321.10,798.05 L1321.30,797.38 L1321.70,794.75 L1322.10,789.47 L1323.10,766.79 L1323.30,763.44 L1323.50,761.63 L1323.60,761.40 L1323.70,761.63 L1323.90,763.45 L1325.10,789.92 L1325.50,795.27 L1325.70,796.85 L1325.90,797.88 L1326.10,798.50 L1326.30,798.86 L1326.50,799.05 L1326.90,799.18 L1327.70,799.05 L1328.30,798.64 L1329.90,795.93 L1330.10,795.75 L1330.30,795.70 L1330.50,795.78 L1330.90,796.28 L1331.90,798.04 L1332.30,798.42 L1333.90,798.64 L1335.30,798.27 L1336.50,798.45 L1337.10,798.23 L1337.50,797.80 L1337.70,797.37 L1338.10,795.70 L1338.50,792.34 L1339.30,782.62 L1339.50,781.15 L1339.70,780.70 L1339.90,781.35 L1340.30,785.38 L1341.10,795.28 L1341.50,797.79 L1341.70,798.45 L1341.90,798.84 L1342.10,799.06 L1343.50,799.45 L1344.30,800.04 L1344.70,800.13 L1345.90,799.45 L1348.90,799.36 L1349.70,799.20 L1350.90,799.63 L1351.50,799.54 L1352.10,799.12 L1353.30,797.57 L1353.70,797.39 L1354.10,797.59 L1355.10,798.49 L1355.50,798.63 L1355.90,798.59 L1356.30,798.33 L1356.70,797.76 L1357.50,796.03 L1357.70,795.77 L1357.90,795.70 L1358.10,795.83 L1359.30,798.45 L1359.50,798.69 L1359.70,798.82 L1359.90,798.83 L1360.30,798.54 L1361.10,797.54 L1361.40,797.40 L1361.70,797.52 L1362.70,798.73 L1363.30,799.08 L1364.90,799.25 L1366.90,798.42 L1376.10,799.09 L1376.50,799.00 L1376.70,798.88 L1376.90,798.65 L1377.10,798.25 L1377.50,796.67 L1378.50,788.67 L1378.70,787.57 L1378.90,787.10 L1379.10,787.34 L1379.30,788.23 L1380.30,795.54 L1380.70,797.06 L1380.90,797.46 L1381.10,797.69 L1381.50,797.85 L1382.90,797.46 L1383.30,797.51 L1384.70,798.32 L1385.10,798.31 L1385.70,797.92 L1386.50,797.20 L1386.90,797.10 L1387.30,797.30 L1388.50,798.63 L1388.90,798.85 L1391.90,798.76 L1393.50,798.01 L1393.90,797.57 L1394.30,796.60 L1395.30,791.72 L1395.50,791.02 L1395.70,790.70 L1395.90,790.80 L1396.10,791.31 L1397.30,797.07 L1397.70,798.17 L1398.10,798.70 L1398.70,798.97 L1401.90,798.48 L1403.10,798.03 L1404.90,798.24 L1409.10,797.68 L1410.70,797.93 L1411.70,797.76 L1412.10,797.94 L1413.10,798.93 L1413.70,799.19 L1416.30,799.33 L1421.10,798.45 L1422.30,798.35 L1422.90,798.20 L1423.30,798.32 L1424.30,799.23 L1424.70,799.37 L1425.10,799.21 L1427.10,796.64 L1427.50,796.35 L1427.90,796.30 L1433.90,798.43 L1434.90,798.33 L1436.90,797.58 L1439.30,797.49 L1440.50,797.22 L1446.90,798.03 L1452.30,796.40 L1452.70,796.43 L1453.30,796.77 L1454.70,798.12 L1455.70,798.51 L1456.50,798.48 L1457.90,797.75 L1458.30,797.70 L1459.90,798.54 L1461.70,798.62 L1462.10,798.48 L1462.50,798.07 L1462.90,797.07 L1463.30,794.92 L1464.30,784.71 L1464.50,783.37 L1464.70,782.90 L1464.90,783.39 L1465.30,786.76 L1466.10,795.19 L1466.50,797.27 L1466.70,797.78 L1466.90,798.03 L1467.10,798.10 L1467.30,798.03 L1467.70,797.54 L1468.10,796.54 L1468.90,793.71 L1469.10,793.27 L1469.30,793.10 L1469.50,793.23 L1469.90,794.27 L1470.70,796.95 L1471.10,797.68 L1471.50,798.04" fill="none" stroke="#1a1a1a" stroke-width="1.05" stroke-linejoin="round"/>
<g fill="none" stroke-width="1">
<line x1="45.5" y1="116" x2="45.5" y2="810" stroke="#a0a0a0"/>
<line x1="46.5" y1="116" x2="46.5" y2="810" stroke="#404040"/>
<line x1="45" y1="808.5" x2="1472" y2="808.5" stroke="#b0b0b0"/>
<line x1="45" y1="809.5" x2="1472" y2="809.5" stroke="#303030"/>
</g>
<g stroke="#1a1a1a" stroke-width="1"><line x1="66.5" y1="810" x2="66.5" y2="814"/><line x1="93.5" y1="810" x2="93.5" y2="814"/><line x1="119.5" y1="810" x2="119.5" y2="814"/><line x1="146.5" y1="810" x2="146.5" y2="818"/><line x1="173.5" y1="810" x2="173.5" y2="814"/><line x1="200.5" y1="810" x2="200.5" y2="814"/><line x1="226.5" y1="810" x2="226.5" y2="814"/><line x1="253.5" y1="810" x2="253.5" y2="814"/><line x1="280.5" y1="810" x2="280.5" y2="818"/><line x1="307.5" y1="810" x2="307.5" y2="814"/><line x1="333.5" y1="810" x2="333.5" y2="814"/><line x1="360.5" y1="810" x2="360.5" y2="814"/><line x1="387.5" y1="810" x2="387.5" y2="814"/><line x1="413.5" y1="810" x2="413.5" y2="818"/><line x1="440.5" y1="810" x2="440.5" y2="814"/><line x1="467.5" y1="810" x2="467.5" y2="814"/><line x1="494.5" y1="810" x2="494.5" y2="814"/><line x1="520.5" y1="810" x2="520.5" y2="814"/><line x1="547.5" y1="810" x2="547.5" y2="818"/><line x1="574.5" y1="810" x2="574.5" y2="814"/><line x1="601.5" y1="810" x2="601.5" y2="814"/><line x1="627.5" y1="810" x2="627.5" y2="814"/><line x1="654.5" y1="810" x2="654.5" y2="814"/><line x1="681.5" y1="810" x2="681.5" y2="818"/><line x1="708.5" y1="810" x2="708.5" y2="814"/><line x1="734.5" y1="810" x2="734.5" y2="814"/><line x1="761.5" y1="810" x2="761.5" y2="814"/><line x1="788.5" y1="810" x2="788.5" y2="814"/><line x1="815.5" y1="810" x2="815.5" y2="818"/><line x1="841.5" y1="810" x2="841.5" y2="814"/><line x1="868.5" y1="810" x2="868.5" y2="814"/><line x1="895.5" y1="810" x2="895.5" y2="814"/><line x1="921.5" y1="810" x2="921.5" y2="814"/><line x1="948.5" y1="810" x2="948.5" y2="818"/><line x1="975.5" y1="810" x2="975.5" y2="814"/><line x1="1002.5" y1="810" x2="1002.5" y2="814"/><line x1="1028.5" y1="810" x2="1028.5" y2="814"/><line x1="1055.5" y1="810" x2="1055.5" y2="814"/><line x1="1082.5" y1="810" x2="1082.5" y2="818"/><line x1="1109.5" y1="810" x2="1109.5" y2="814"/><line x1="1135.5" y1="810" x2="1135.5" y2="814"/><line x1="1162.5" y1="810" x2="1162.5" y2="814"/><line x1="1189.5" y1="810" x2="1189.5" y2="814"/><line x1="1216.5" y1="810" x2="1216.5" y2="818"/><line x1="1242.5" y1="810" x2="1242.5" y2="814"/><line x1="1269.5" y1="810" x2="1269.5" y2="814"/><line x1="1296.5" y1="810" x2="1296.5" y2="814"/><line x1="1322.5" y1="810" x2="1322.5" y2="814"/><line x1="1349.5" y1="810" x2="1349.5" y2="818"/><line x1="1376.5" y1="810" x2="1376.5" y2="814"/><line x1="1403.5" y1="810" x2="1403.5" y2="814"/><line x1="1429.5" y1="810" x2="1429.5" y2="814"/><line x1="1456.5" y1="810" x2="1456.5" y2="814"/><line x1="43" y1="798.5" x2="45" y2="798.5"/><line x1="43" y1="788.5" x2="45" y2="788.5"/><line x1="43" y1="777.5" x2="45" y2="777.5"/><line x1="43" y1="766.5" x2="45" y2="766.5"/><line x1="41" y1="756.5" x2="45" y2="756.5"/><line x1="43" y1="745.5" x2="45" y2="745.5"/><line x1="43" y1="735.5" x2="45" y2="735.5"/><line x1="43" y1="724.5" x2="45" y2="724.5"/><line x1="43" y1="713.5" x2="45" y2="713.5"/><line x1="41" y1="703.5" x2="45" y2="703.5"/><line x1="43" y1="692.5" x2="45" y2="692.5"/><line x1="43" y1="682.5" x2="45" y2="682.5"/><line x1="43" y1="671.5" x2="45" y2="671.5"/><line x1="43" y1="660.5" x2="45" y2="660.5"/><line x1="41" y1="650.5" x2="45" y2="650.5"/><line x1="43" y1="639.5" x2="45" y2="639.5"/><line x1="43" y1="629.5" x2="45" y2="629.5"/><line x1="43" y1="618.5" x2="45" y2="618.5"/><line x1="43" y1="607.5" x2="45" y2="607.5"/><line x1="41" y1="597.5" x2="45" y2="597.5"/><line x1="43" y1="586.5" x2="45" y2="586.5"/><line x1="43" y1="576.5" x2="45" y2="576.5"/><line x1="43" y1="565.5" x2="45" y2="565.5"/><line x1="43" y1="554.5" x2="45" y2="554.5"/><line x1="41" y1="544.5" x2="45" y2="544.5"/><line x1="43" y1="533.5" x2="45" y2="533.5"/><line x1="43" y1="523.5" x2="45" y2="523.5"/><line x1="43" y1="512.5" x2="45" y2="512.5"/><line x1="43" y1="501.5" x2="45" y2="501.5"/><line x1="41" y1="491.5" x2="45" y2="491.5"/><line x1="43" y1="480.5" x2="45" y2="480.5"/><line x1="43" y1="470.5" x2="45" y2="470.5"/><line x1="43" y1="459.5" x2="45" y2="459.5"/><line x1="43" y1="449.5" x2="45" y2="449.5"/><line x1="41" y1="438.5" x2="45" y2="438.5"/><line x1="43" y1="427.5" x2="45" y2="427.5"/><line x1="43" y1="417.5" x2="45" y2="417.5"/><line x1="43" y1="406.5" x2="45" y2="406.5"/><line x1="43" y1="396.5" x2="45" y2="396.5"/><line x1="41" y1="385.5" x2="45" y2="385.5"/><line x1="43" y1="374.5" x2="45" y2="374.5"/><line x1="43" y1="364.5" x2="45" y2="364.5"/><line x1="43" y1="353.5" x2="45" y2="353.5"/><line x1="43" y1="343.5" x2="45" y2="343.5"/><line x1="41" y1="332.5" x2="45" y2="332.5"/><line x1="43" y1="321.5" x2="45" y2="321.5"/><line x1="43" y1="311.5" x2="45" y2="311.5"/><line x1="43" y1="300.5" x2="45" y2="300.5"/><line x1="43" y1="290.5" x2="45" y2="290.5"/><line x1="41" y1="279.5" x2="45" y2="279.5"/><line x1="43" y1="268.5" x2="45" y2="268.5"/><line x1="43" y1="258.5" x2="45" y2="258.5"/><line x1="43" y1="247.5" x2="45" y2="247.5"/><line x1="43" y1="237.5" x2="45" y2="237.5"/><line x1="41" y1="226.5" x2="45" y2="226.5"/><line x1="43" y1="215.5" x2="45" y2="215.5"/><line x1="43" y1="205.5" x2="45" y2="205.5"/><line x1="43" y1="194.5" x2="45" y2="194.5"/><line x1="43" y1="184.5" x2="45" y2="184.5"/><line x1="41" y1="173.5" x2="45" y2="173.5"/><line x1="43" y1="162.5" x2="45" y2="162.5"/><line x1="43" y1="152.5" x2="45" y2="152.5"/><line x1="43" y1="141.5" x2="45" y2="141.5"/><line x1="43" y1="131.5" x2="45" y2="131.5"/><line x1="41" y1="120.5" x2="45" y2="120.5"/></g>
<g font-size="15.8"><text x="146.60" y="832.6" text-anchor="middle">16.00</text><text x="280.28" y="832.6" text-anchor="middle">18.00</text><text x="413.96" y="832.6" text-anchor="middle">20.00</text><text x="547.64" y="832.6" text-anchor="middle">22.00</text><text x="681.32" y="832.6" text-anchor="middle">24.00</text><text x="815.00" y="832.6" text-anchor="middle">26.00</text><text x="948.68" y="832.6" text-anchor="middle">28.00</text><text x="1082.36" y="832.6" text-anchor="middle">30.00</text><text x="1216.04" y="832.6" text-anchor="middle">32.00</text><text x="1349.72" y="832.6" text-anchor="middle">34.00</text>
<text x="34.9" y="127.8" text-anchor="end">100</text>
<text x="38.2" y="814.9" text-anchor="end">0</text>
</g>
<g font-size="18.6" text-anchor="middle"><text x="102.5" y="728.3">1</text><text x="192.1" y="702.8">3</text><text x="222.1" y="646.0">4</text><text x="243.2" y="651.1">5</text><text x="276.0" y="783.0">7</text><text x="315.3" y="644.0">8</text><text x="325.3" y="739.0">9</text><text x="338.7" y="776.0">10</text><text x="352.0" y="681.0">11</text><text x="420.0" y="490.0">12</text><text x="513.6" y="345.2">13</text><text x="538.2" y="238.3">14</text><text x="594.0" y="675.1">15</text><text x="643.1" y="697.3">16</text><text x="660.4" y="774.8">17</text><text x="708.0" y="783.1">18</text><text x="704.0" y="655.6">19</text><text x="740.0" y="714.0">20</text><text x="765.0" y="747.1">21</text><text x="786.7" y="723.9">22</text><text x="801.5" y="770.0">23</text><text x="816.8" y="710.7">24</text><text x="857.0" y="520.0">25</text><text x="878.5" y="648.4">26</text><text x="903.8" y="176.3">27</text><text x="933.0" y="698.1">28</text><text x="957.9" y="719.3">29</text><text x="984.7" y="124.2">30</text><text x="1035.5" y="652.0">31</text><text x="1096.6" y="700.9">32</text><text x="1137.3" y="656.9">33</text><text x="1165.0" y="278.1">34</text><text x="1252.6" y="570.9">35</text></g>
<g stroke="#222" stroke-width="1"><line x1="222.9" y1="659.7" x2="230.9" y2="707.7"/><line x1="241.6" y1="659.1" x2="241.0" y2="697.7"/><line x1="704.3" y1="664.8" x2="721.3" y2="729.7"/><line x1="1035.6" y1="661.7" x2="1053.5" y2="765.9"/></g>
<text font-size="25" x="0" y="0" transform="translate(37.0,546.5) rotate(-90)" textLength="221.5" lengthAdjust="spacingAndGlyphs">Relative Abundance</text>
<text font-size="25" x="687.5" y="864.9">Time (min.)</text>
<text font-size="25.5" x="0" y="0" transform="translate(547.1,211.5) rotate(-90)" textLength="197.5" lengthAdjust="spacingAndGlyphs">benzoic acid TMS</text>
<text font-size="25.5" x="0" y="0" transform="translate(789.9,694.8) rotate(-90)" textLength="163.5" lengthAdjust="spacingAndGlyphs">vinyl benzoate</text>
<text font-size="25.5" x="0" y="0" transform="translate(970.9,541.0) rotate(-90)" textLength="389" lengthAdjust="spacingAndGlyphs">1,4-benzenedicarboxylic acid TMS</text>
</svg>
</body></html>
